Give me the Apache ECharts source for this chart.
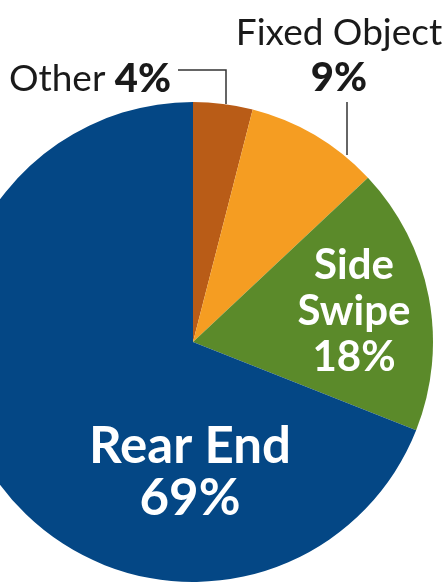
<!DOCTYPE html>
<html>
<head>
<meta charset="utf-8">
<script src="https://cdn.jsdelivr.net/npm/echarts@6/dist/echarts.min.js"></script>
<style>
  html, body { margin: 0; padding: 0; background: #fff; }
  #chart { width: 444px; height: 585px; }
</style>
</head>
<body>
<div id="chart"></div>
<script>
// crash types, clockwise from 12 o'clock
var categories = ['Other', 'Fixed Object', 'Side Swipe', 'Rear End'];
var shares = [4, 9, 18, 69];
var colors = ['#b95c17', '#f59d22', '#5b8a2a', '#044785'];

// where each label block sits (center of text block)
var labelPos = [
    {x: 90, y: 79},
    {x: 339, y: 54},
    {x: 354, y: 311},
    {x: 190, y: 473}
];

var chart = echarts.init(document.getElementById('chart'));

var data = categories.map(function (name, i) {
    var fmt;
    if (i === 0) fmt = '{n|' + name + ' }{b|' + shares[i] + '%}';
    else if (i === 1) fmt = '{n|' + name + '}\n{b|' + shares[i] + '%}';
    else if (i === 2) fmt = '{w|Side}\n{w|Swipe}\n{w|' + shares[i] + '%}';
    else fmt = '{r|' + name + '}\n{r|' + shares[i] + '%}';
    return {
        name: name,
        value: shares[i],
        itemStyle: {color: colors[i]},
        label: {formatter: fmt}
    };
});

chart.setOption({
    animation: false,
    series: [{
        type: 'pie',
        center: [193, 342],
        radius: 240,
        startAngle: 90,
        clockwise: true,
        itemStyle: {borderWidth: 0},
        label: {
            show: true,
            position: 'inside',
            align: 'center',
            rich: {
                n: {fontFamily: 'Lato', fontSize: 37, color: '#1a1a1a', lineHeight: 48},
                b: {fontFamily: 'Lato', fontWeight: 900, fontSize: 40, color: '#1a1a1a', lineHeight: 42},
                w: {fontFamily: 'Lato', fontWeight: 'bold', fontSize: 42, color: '#fff', lineHeight: 46, align: 'center'},
                r: {fontFamily: 'Lato', fontWeight: 'bold', fontSize: 51, color: '#fff', lineHeight: 52, align: 'center'}
            }
        },
        labelLine: {show: false},
        labelLayout: function (params) {
            var p = labelPos[params.dataIndex];
            return {x: p.x, y: p.y, align: 'center', verticalAlign: 'middle'};
        },
        emphasis: {disabled: true},
        data: data
    }],
    graphic: [
        {
            type: 'polyline',
            shape: {points: [[178, 70], [226, 70], [226, 104]]},
            style: {stroke: '#333', lineWidth: 1.5, fill: null}
        },
        {
            type: 'polyline',
            shape: {points: [[347, 102], [347, 155]]},
            style: {stroke: '#333', lineWidth: 1.5, fill: null}
        }
    ]
});
</script>
</body>
</html>
